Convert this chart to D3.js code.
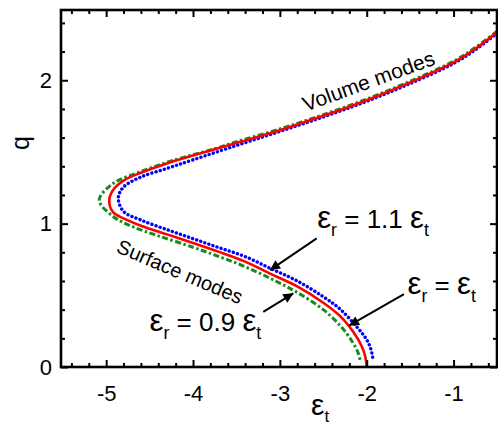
<!DOCTYPE html>
<html>
<head>
<meta charset="utf-8">
<script src="https://cdn.jsdelivr.net/npm/d3@7"></script>
<style>
  body { margin: 0; background: #fff; }
  text { font-family: "Liberation Sans", Arial, sans-serif; fill: #000; }
</style>
</head>
<body>
<svg id="chart" width="498" height="429"></svg>
<script>
// curves: [eps_t, q], following each curve from top right
var curveRed = [[-0.50, 2.335], [-0.75, 2.22], [-1.00, 2.125], [-1.50, 1.985], [-2.00, 1.861],
  [-2.50, 1.752], [-3.00, 1.652], [-3.50, 1.563], [-4.00, 1.475], [-4.30, 1.42], [-4.60, 1.355],
  [-4.80, 1.30], [-4.92, 1.235], [-4.965, 1.16], [-4.92, 1.08], [-4.80, 1.036], [-4.60, 0.985],
  [-4.30, 0.925], [-4.00, 0.865], [-3.70, 0.803], [-3.40, 0.735], [-3.10, 0.648], [-2.80, 0.562],
  [-2.50, 0.448], [-2.30, 0.351], [-2.15, 0.24], [-2.06, 0.148], [-2.02, 0.08], [-2.00, 0.0]]

var curveBlue = [[-0.50, 2.327], [-0.75, 2.212], [-1.00, 2.117], [-1.50, 1.977], [-2.00, 1.853],
  [-2.50, 1.744], [-3.00, 1.643], [-3.50, 1.545], [-4.00, 1.445], [-4.30, 1.385], [-4.60, 1.325],
  [-4.80, 1.255], [-4.86, 1.18], [-4.80, 1.085], [-4.60, 1.025], [-4.30, 0.958], [-4.00, 0.895],
  [-3.70, 0.832], [-3.40, 0.77], [-3.10, 0.685], [-2.80, 0.60], [-2.50, 0.49], [-2.30, 0.40],
  [-2.10, 0.27], [-2.00, 0.19], [-1.95, 0.12], [-1.925, 0.04]]

var curveGreen = [[-0.50, 2.343], [-0.75, 2.228], [-1.00, 2.133], [-1.50, 1.993], [-2.00, 1.869],
  [-2.50, 1.76], [-3.00, 1.66], [-3.50, 1.571], [-3.75, 1.522], [-4.25, 1.437], [-4.61, 1.361],
  [-4.92, 1.28], [-5.08, 1.164], [-4.92, 1.05], [-4.70, 0.98], [-4.40, 0.915], [-4.00, 0.835],
  [-3.70, 0.77], [-3.40, 0.70], [-3.10, 0.615], [-2.80, 0.52], [-2.50, 0.40], [-2.30, 0.285],
  [-2.17, 0.18], [-2.10, 0.10], [-2.075, 0.045]]

var xTicks = [-5, -4, -3, -2, -1]
var yTicks = [0, 1, 2]

var dimensions = ({
  width: 498,
  height: 429,
  margin: { top: 10, right: 1, bottom: 62, left: 61 }
})

var svg = d3.select("#chart")

var xScale = d3.scaleLinear()
  .domain([-5.52, -0.5])
  .range([dimensions.margin.left, dimensions.width - dimensions.margin.right])

var yScale = d3.scaleLinear()
  .domain([0, 2.49])
  .range([dimensions.height - dimensions.margin.bottom, dimensions.margin.top])

var x0 = dimensions.margin.left, x1 = dimensions.width - dimensions.margin.right
var y0 = dimensions.margin.top, y1 = dimensions.height - dimensions.margin.bottom

svg.append("clipPath").attr("id", "plot")
  .append("rect").attr("x", x0).attr("y", y0).attr("width", x1 - x0).attr("height", y1 - y0)

var lineGen = d3.line()
  .x(d => xScale(d[0]))
  .y(d => yScale(d[1]))
  .curve(d3.curveCatmullRom.alpha(0.5))

var curves = svg.append("g").attr("clip-path", "url(#plot)")

curves.append("path").datum(curveGreen)
  .attr("d", lineGen).attr("fill", "none")
  .attr("stroke", "#1a8a1a").attr("stroke-width", 3)
  .attr("stroke-dasharray", "6,2.5,2.5,2.5")

curves.append("path").datum(curveBlue)
  .attr("d", lineGen).attr("fill", "none")
  .attr("stroke", "#0000ff").attr("stroke-width", 3.4)
  .attr("stroke-linecap", "round")
  .attr("stroke-dasharray", "0.1,4.2")

curves.append("path").datum(curveRed)
  .attr("d", lineGen).attr("fill", "none")
  .attr("stroke", "#ff0000").attr("stroke-width", 2.6)

// axes, ticks point inwards
var minorX = d3.range(-5.4, -0.5, 0.2).map(v => +v.toFixed(1)).filter(v => !xTicks.includes(v))
var minorY = d3.range(0.2, 2.49, 0.2).map(v => +v.toFixed(1)).filter(v => !yTicks.includes(v))

function styleAxis(g) {
  g.select(".domain").remove()
  g.selectAll("line").attr("stroke", "#000").attr("stroke-width", 2)
  g.selectAll("text").style("font-size", "22px")
}

svg.append("g").attr("transform", `translate(0,${y1})`)
  .call(d3.axisBottom(xScale).tickValues(xTicks).tickSize(-7).tickFormat(d => String(d)))
  .call(styleAxis)
  .call(g => g.selectAll("text").attr("y", 34).attr("dy", 0))
svg.append("g").attr("transform", `translate(0,${y1})`)
  .call(d3.axisBottom(xScale).tickValues(minorX).tickSize(-4).tickFormat(""))
  .call(styleAxis)
svg.append("g").attr("transform", `translate(0,${y0})`)
  .call(d3.axisTop(xScale).tickValues(xTicks).tickSize(-7).tickFormat(""))
  .call(styleAxis)
svg.append("g").attr("transform", `translate(0,${y0})`)
  .call(d3.axisTop(xScale).tickValues(minorX).tickSize(-4).tickFormat(""))
  .call(styleAxis)

svg.append("g").attr("transform", `translate(${x0},0)`)
  .call(d3.axisLeft(yScale).tickValues(yTicks).tickSize(-7).tickPadding(9).tickFormat(d => String(d)))
  .call(styleAxis)
svg.append("g").attr("transform", `translate(${x0},0)`)
  .call(d3.axisLeft(yScale).tickValues(minorY).tickSize(-4).tickFormat(""))
  .call(styleAxis)
svg.append("g").attr("transform", `translate(${x1},0)`)
  .call(d3.axisRight(yScale).tickValues(yTicks).tickSize(-7).tickFormat(""))
  .call(styleAxis)
svg.append("g").attr("transform", `translate(${x1},0)`)
  .call(d3.axisRight(yScale).tickValues(minorY).tickSize(-4).tickFormat(""))
  .call(styleAxis)

svg.append("rect")
  .attr("x", x0).attr("y", y0).attr("width", x1 - x0).attr("height", y1 - y0)
  .attr("fill", "none").attr("stroke", "#000").attr("stroke-width", 2.6)

// axis titles
svg.append("text")
  .attr("transform", "translate(29,143) rotate(-90)")
  .attr("text-anchor", "middle")
  .style("font-size", "25px")
  .text("q")

// text with a bigger epsilon and lowered subscripts
function epsText(x, y, parts, size, drop) {
  drop = drop || 0.32
  var t = svg.append("text").attr("x", x).attr("y", y).style("font-size", size + "px")
  var shifted = false
  parts.forEach(p => {
    if (p.sub) {
      t.append("tspan").attr("dy", shifted ? 0 : size * drop).style("font-size", (size * 0.68) + "px").text(p.sub)
      shifted = true
    } else {
      var s = t.append("tspan").attr("dy", shifted ? -size * drop : 0)
      shifted = false
      if (p.eps) s.style("font-size", (size * 1.2) + "px").text("ε")
      else s.text(p.t)
    }
  })
  return t
}

epsText(311, 415, [{ eps: 1 }, { sub: "t" }], 25, 0.26)

// annotations, placed in data coordinates
epsText(xScale(-2.57), yScale(0.97), [{ eps: 1 }, { sub: "r" }, { t: " = 1.1 " }, { eps: 1 }, { sub: "t" }], 26)
epsText(xScale(-1.53), yScale(0.509), [{ eps: 1 }, { sub: "r" }, { t: " = " }, { eps: 1 }, { sub: "t" }], 26)
epsText(xScale(-4.50), yScale(0.251), [{ eps: 1 }, { sub: "r" }, { t: " = 0.9 " }, { eps: 1 }, { sub: "t" }], 26)

svg.append("text")
  .attr("transform", `translate(${xScale(-1.98)},${yScale(1.995)}) rotate(-20)`)
  .attr("text-anchor", "middle").attr("dy", "0.35em")
  .style("font-size", "21px")
  .text("Volume modes")

svg.append("text")
  .attr("transform", `translate(${xScale(-4.15)},${yScale(0.665)}) rotate(23)`)
  .attr("text-anchor", "middle").attr("dy", "0.35em")
  .style("font-size", "20px")
  .text("Surface modes")

svg.append("defs").append("marker")
  .attr("id", "head").attr("viewBox", "0 0 10 10")
  .attr("refX", 10).attr("refY", 5)
  .attr("markerWidth", 6).attr("markerHeight", 5)
  .attr("markerUnits", "strokeWidth")
  .attr("orient", "auto")
  .append("path").attr("d", "M0,0 L10,5 L0,10 z").attr("fill", "#000")

var arrows = [
  [[-2.576, 0.897], [-3.114, 0.676]],
  [[-1.571, 0.509], [-2.204, 0.288]],
  [[-3.191, 0.385], [-2.845, 0.514]]
]

svg.append("g").selectAll("line")
  .data(arrows)
  .enter()
  .append("line")
  .attr("x1", d => xScale(d[0][0])).attr("y1", d => yScale(d[0][1]))
  .attr("x2", d => xScale(d[1][0])).attr("y2", d => yScale(d[1][1]))
  .attr("stroke", "#000").attr("stroke-width", 2)
  .attr("marker-end", "url(#head)")
</script>
</body>
</html>
